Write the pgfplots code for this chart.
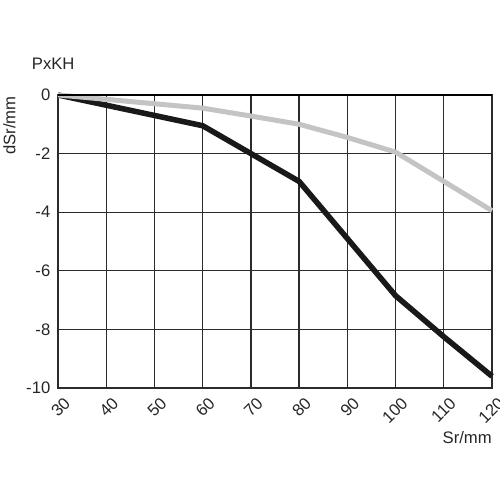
\documentclass[border=0pt]{standalone}
\usepackage{pgfplots}
\pgfplotsset{compat=1.18}
\usepackage{fontspec}
\setmainfont{Liberation Sans}
\definecolor{gridgray}{HTML}{2B2B2B}
\definecolor{lightline}{HTML}{C4C4C4}

\begin{document}
\begin{tikzpicture}[x=0.72pt,y=0.72pt]
\path[use as bounding box] (-58,-112) rectangle (442,388);
\begin{axis}[
    scale only axis,
    width=312.5pt, height=211pt,
    xmin=30, xmax=120, ymin=-10, ymax=0,
    xtick={30,40,...,120},
    ytick={-10,-8,...,0},
    grid=major,
    major grid style={gridgray, line width=0.9pt},
    axis line style={gridgray, line width=0.9pt},
    major tick length=0pt,
    tick label style={font=\fontsize{12}{14}\selectfont, text=black!85},
    /pgf/number format/assume math mode=true,
    xticklabel style={rotate=45, anchor=north east, inner sep=1pt, yshift=-5.5pt, xshift=-0.5pt},
    yticklabel style={xshift=-2pt},
    clip=false,
]
\addplot[black!90, line width=4pt, line join=round] coordinates {
(30,0) (40,-0.35) (50,-0.7) (60,-1.05) (70,-2.0) (80,-2.95) (90,-4.9) (100,-6.85) (110,-8.25) (120,-9.6)
};
\addplot[lightline, line width=3.6pt, line join=round] coordinates {
(30,0) (40,-0.15) (50,-0.3) (60,-0.45) (70,-0.72) (80,-1.0) (90,-1.45) (100,-1.95) (110,-2.95) (120,-3.95)
};
\draw[black, line width=2pt] (rel axis cs:0,1) -- (rel axis cs:1,1);
\node[anchor=south west, inner sep=0pt, font=\fontsize{12}{14}\selectfont, text=black!85] at ([xshift=-19pt,yshift=18pt]rel axis cs:0,1) {PxKH};
\node[anchor=north, rotate=90, inner sep=0pt, font=\fontsize{12}{14}\selectfont, text=black!85] at ([xshift=-39.5pt,yshift=-22pt]rel axis cs:0,1) {dSr/mm};
\node[anchor=east, inner sep=0pt, font=\fontsize{12}{14}\selectfont, text=black!85] at ([yshift=-36pt]rel axis cs:1,0) {Sr/mm};
\end{axis}
\end{tikzpicture}
\end{document}
